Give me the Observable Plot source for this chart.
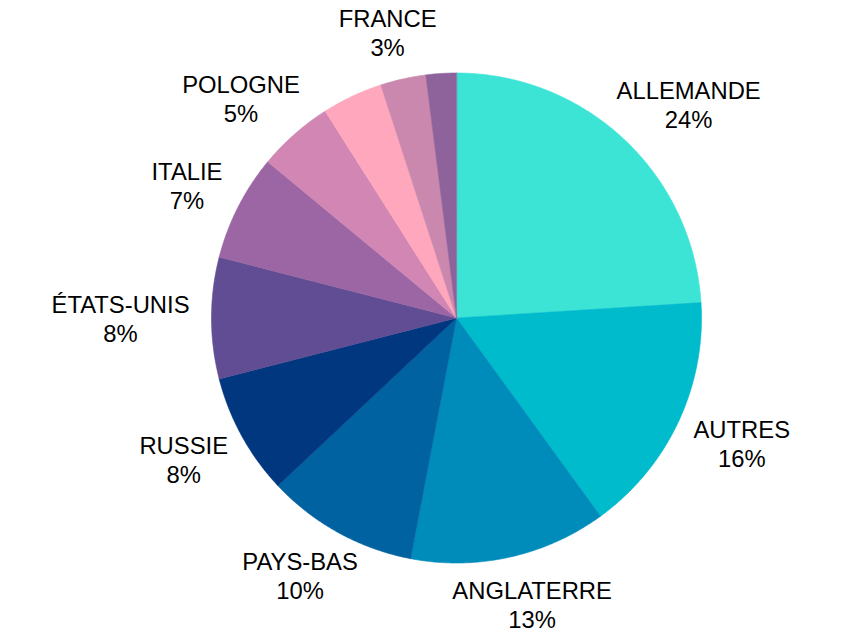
<!DOCTYPE html>
<html>
<head>
<meta charset="utf-8">
<script src="https://cdn.jsdelivr.net/npm/d3@7"></script>
<script src="https://cdn.jsdelivr.net/npm/@observablehq/plot@0.6"></script>
<style>
  html, body { margin: 0; padding: 0; background: #fff; }
  #chart svg { display: block; }
</style>
</head>
<body>
<div id="chart"></div>
<script>
// Data (clockwise from 12 o'clock)
const categories = ["ALLEMANDE", "AUTRES", "ANGLATERRE", "PAYS-BAS", "RUSSIE", "ÉTATS-UNIS", "ITALIE", "POLOGNE", "AUTRE-A", "FRANCE", "AUTRE-B"];
const values = [24, 16, 13, 10, 8, 8, 7, 5, 4, 3, 2];
const labels = ["ALLEMANDE", "AUTRES", "ANGLATERRE", "PAYS-BAS", "RUSSIE", "ÉTATS-UNIS", "ITALIE", "POLOGNE", null, "FRANCE", null];
const colors = ["#3ce4d6", "#00bbcc", "#008cba", "#0062a1", "#00377f", "#604d93", "#9c66a5", "#d186b3", "#ffa8bd", "#cb88ae", "#8e639b"];

const W = 848, H = 635;
const R = 245;               // radius in px
const cx = 456, cy = 317.5;  // centre in px
const fontSize = 23.8;
const fontFamily = "'Liberation Sans', Arial, sans-serif";

const total = d3.sum(values);
const pie = d3.pie().sort(null).value(d => d)(values);

// Slice polygons computed from the pie angles
const slicePts = [];
pie.forEach((p, i) => {
  slicePts.push({cat: categories[i], x: 0, y: 0});
  const n = Math.max(4, Math.ceil((p.endAngle - p.startAngle) / (Math.PI / 360)));
  for (let k = 0; k <= n; k++) {
    const a = p.startAngle + (p.endAngle - p.startAngle) * k / n;
    slicePts.push({cat: categories[i], x: Math.sin(a), y: Math.cos(a)});
  }
});

// Label positions (outside the pie, pushed out by half the label box)
const ctx = document.createElement("canvas").getContext("2d");
ctx.font = `${fontSize}px ${fontFamily}`;
const pad = 22, halfH = 26;
const labelData = [];
pie.forEach((p, i) => {
  if (!labels[i]) return;
  const m = (p.startAngle + p.endAngle) / 2;
  const dx = Math.sin(m), dy = Math.cos(m);
  const pct = Math.round(values[i] / total * 100) + "%";
  const halfW = Math.max(ctx.measureText(labels[i]).width, ctx.measureText(pct).width) / 2;
  const px = (R + pad) * dx + halfW * dx;
  const py = (R + pad) * dy + halfH * dy;
  labelData.push({x: px / R, y: py / R, text: labels[i] + "\n" + pct});
});

const chart = Plot.plot({
  width: W,
  height: H,
  marginLeft: cx - R,
  marginRight: W - (cx + R),
  marginTop: cy - R,
  marginBottom: H - (cy + R),
  style: {fontFamily, background: "#fff"},
  x: {domain: [-1, 1], axis: null},
  y: {domain: [-1, 1], axis: null},
  color: {domain: categories, range: colors},
  marks: [
    Plot.line(slicePts, {x: "x", y: "y", z: "cat", fill: "cat", stroke: "cat", strokeWidth: 0.6, curve: "linear-closed"}),
    Plot.text(labelData, {x: "x", y: "y", text: "text", fontSize, fill: "#000", lineHeight: 1.22, textAnchor: "middle", lineAnchor: "middle"})
  ]
});
document.getElementById("chart").appendChild(chart);
</script>
</body>
</html>
